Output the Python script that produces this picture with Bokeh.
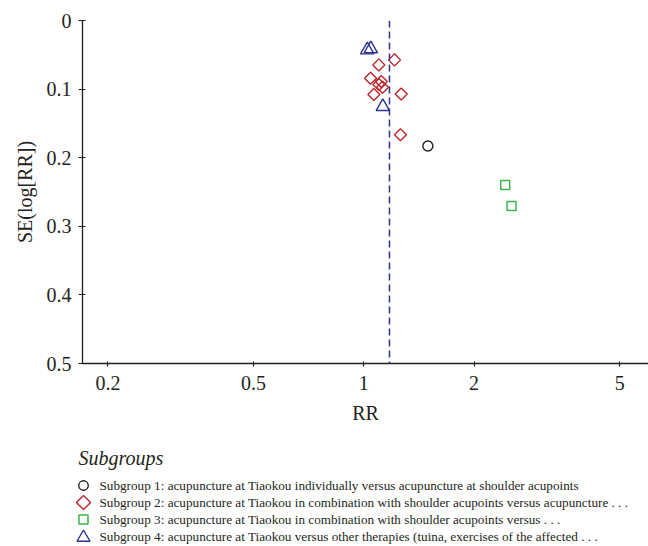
import numpy as np
from bokeh.plotting import figure
from bokeh.models import Range1d, FixedTicker, CustomJSTickFormatter, Span
from bokeh.embed import file_html
from bokeh.resources import INLINE
from bokeh.core.properties import value

# ---- data ----
sg1_rr = [1.496]
sg1_se = [0.183]
sg2_rr = [1.213, 1.099, 1.043, 1.116, 1.125, 1.100, 1.065, 1.265, 1.259]
sg2_se = [0.0574, 0.0647, 0.0841, 0.0890, 0.0973, 0.0934, 0.108, 0.107, 0.1664]
sg3_rr = [2.433, 2.532]
sg3_se = [0.2397, 0.2704]
sg4_rr = [1.022, 1.045, 1.127]
sg4_se = [0.0429, 0.0414, 0.1256]
pooled_rr = 1.175

x_ticks = [0.2, 0.5, 1, 2, 5]
y_ticks = [0, 0.1, 0.2, 0.3, 0.4, 0.5]

legend_title = "Subgroups"
legend_labels = [
    "Subgroup 1: acupuncture at Tiaokou individually versus acupuncture at shoulder acupoints",
    "Subgroup 2: acupuncture at Tiaokou in combination with shoulder acupoints versus acupuncture . . .",
    "Subgroup 3: acupuncture at Tiaokou in combination with shoulder acupoints versus . . .",
    "Subgroup 4: acupuncture at Tiaokou versus other therapies (tuina, exercises of the affected . . .",
]

BLACK = "#231f20"
RED = "#c1272d"
GREEN = "#39b54a"
BLUE = "#2e3192"
FONT = "Liberation Serif"

H1 = 440
p = figure(width=648, height=H1, x_axis_type="log",
           x_range=Range1d(0.1705, 5.99), y_range=Range1d(0.5, 0),
           output_backend="svg", toolbar_location=None,
           min_border_left=82, min_border_right=0, min_border_top=20,
           min_border_bottom=H1 - 363)
p.outline_line_color = None
p.grid.visible = False

for ax in (p.xaxis[0], p.yaxis[0]):
    ax.axis_line_color = BLACK
    ax.axis_line_width = 1.3
    ax.major_tick_line_color = BLACK
    ax.major_tick_line_width = 1.2
    ax.minor_tick_line_color = None
    ax.major_label_text_font = FONT
    ax.major_label_text_font_size = "20px"
    ax.major_label_text_color = BLACK
    ax.axis_label_text_font = FONT
    ax.axis_label_text_font_size = "20px"
    ax.axis_label_text_font_style = "normal"
    ax.axis_label_text_color = BLACK

p.xaxis.ticker = FixedTicker(ticks=x_ticks)
p.xaxis.formatter = CustomJSTickFormatter(code="return String(tick);")
p.xaxis.major_tick_in = 2
p.xaxis.major_tick_out = 3
p.xaxis.major_label_standoff = 9
p.xaxis.axis_label = "RR"
p.xaxis.axis_label_standoff = 9

p.yaxis.ticker = FixedTicker(ticks=y_ticks)
p.yaxis.formatter = CustomJSTickFormatter(code="return String(Math.round(tick*10)/10);")
p.yaxis.major_tick_in = 3
p.yaxis.major_tick_out = 4
p.yaxis.major_label_standoff = 7
p.yaxis.axis_label = "SE(log[RR])"
p.yaxis.axis_label_standoff = 8

p.add_layout(Span(location=pooled_rr, dimension="height", line_color=BLUE,
                  line_width=1.5, line_dash="7 4"))

p.scatter(sg1_rr, sg1_se, marker="circle", size=10, fill_color=None,
          line_color=BLACK, line_width=1.4)
p.scatter(sg2_rr, sg2_se, marker="square", angle=np.pi / 4, size=8.5, fill_color=None,
          line_color=RED, line_width=1.4)
p.scatter(sg3_rr, sg3_se, marker="square", size=9, fill_color=None,
          line_color=GREEN, line_width=1.5)
p.scatter(sg4_rr, sg4_se, marker="triangle", size=13.5, fill_color=None,
          line_color=BLUE, line_width=1.4)

# ---- legend panel (pixel coordinates of this panel) ----
lg_h = 546 - H1
lg = figure(width=648, height=lg_h, x_range=Range1d(0, 648), y_range=Range1d(lg_h, 0),
            output_backend="svg", toolbar_location=None,
            x_axis_location=None, y_axis_location=None, min_border=0)
lg.outline_line_color = None
lg.grid.visible = False

row_y = [45, 62, 79, 96]
mk_x = 83
lg.text(x=[78], y=[17], text=[legend_title], text_font=value(FONT),
        text_font_size="20px", text_font_style="italic", text_baseline="middle",
        text_color=BLACK)
lg.text(x=[99] * 4, y=row_y, text=legend_labels, text_font=value(FONT),
        text_font_size="13.2px", text_baseline="middle", text_color=BLACK)
lg.scatter([mk_x], [row_y[0]], marker="circle", size=9.5, fill_color=None,
           line_color=BLACK, line_width=1.4)
lg.scatter([mk_x], [row_y[1]], marker="square", angle=np.pi / 4, size=10, fill_color=None,
           line_color=RED, line_width=1.4)
lg.scatter([mk_x], [row_y[2]], marker="square", size=9, fill_color=None,
           line_color=GREEN, line_width=1.5)
lg.scatter([mk_x], [row_y[3] + 1], marker="triangle", size=13, fill_color=None,
           line_color=BLUE, line_width=1.4)

open("out.html", "w").write(file_html([p, lg], INLINE))
